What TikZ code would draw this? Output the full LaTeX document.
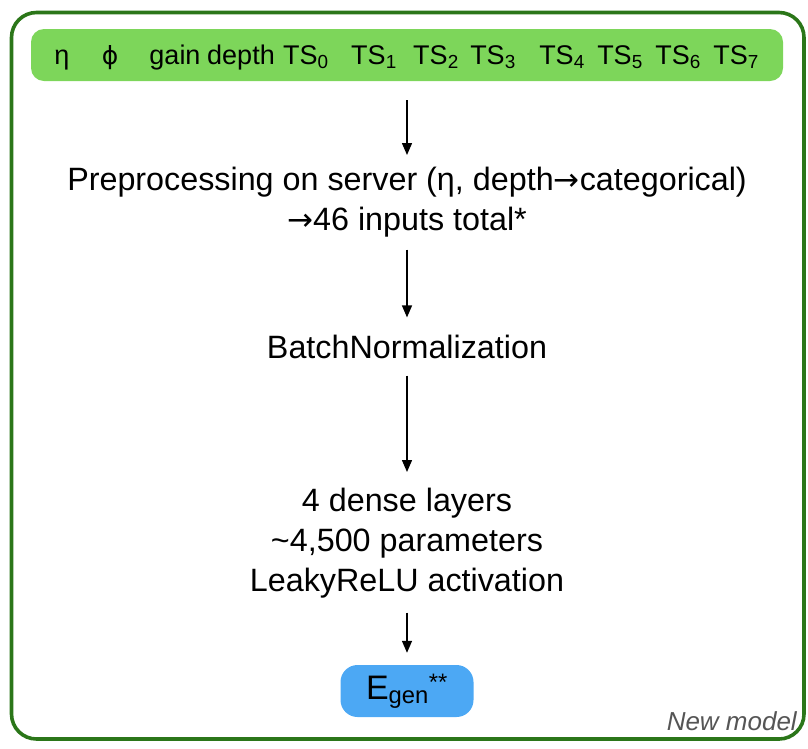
\documentclass[tikz,border=0pt]{standalone}
\usepackage{fontspec}
\setmainfont{Liberation Sans}
\newfontfamily\symfont{DejaVu Sans}
\usetikzlibrary{arrows.meta}
\definecolor{framegreen}{HTML}{2B7619}
\definecolor{barfill}{HTML}{7DD65A}
\definecolor{boxblue}{HTML}{4CA8F4}
\definecolor{labelgray}{HTML}{555555}
\newcommand{\rarr}{{\symfont\fontsize{31}{34}\selectfont →}}
\tikzset{
  arr/.style={line width=1.4pt, -{Triangle[width=10pt,length=12pt]}},
  barlabel/.style={anchor=base, inner sep=0pt, font=\fontsize{27}{30}\selectfont},
  maintext/.style={inner sep=0pt, align=center, font=\fontsize{32.3}{40}\selectfont},
}
\begin{document}
\begin{tikzpicture}[x=1pt,y=-1pt]
\useasboundingbox (0,0) rectangle (808,748);
% outer frame
\draw[framegreen, line width=3.6pt, rounded corners=25pt]
  (11.5,12.5) rectangle (804,739);
% input bar
\node[fill=barfill, rounded corners=13pt, minimum width=752pt, minimum height=52pt, inner sep=0pt] (bar) at (407,55) {};
\node[barlabel] (l1) at (62,64) {η};
\node[barlabel] (l2) at (110,64) {{\symfont\fontsize{25}{28}\selectfont ϕ}};
\node[barlabel] (l3) at (175,64) {gain};
\node[barlabel] (l4) at (241,64) {depth};
\node[barlabel] (l5) at (306,64) {TS\textsubscript{0}};
\node[barlabel] (l6) at (374,64) {TS\textsubscript{1}};
\node[barlabel] (l7) at (436,64) {TS\textsubscript{2}};
\node[barlabel] (l8) at (493,64) {TS\textsubscript{3}};
\node[barlabel] (l9) at (562,64) {TS\textsubscript{4}};
\node[barlabel] (l10) at (620,64) {TS\textsubscript{5}};
\node[barlabel] (l11) at (678,64) {TS\textsubscript{6}};
\node[barlabel] (l12) at (736,64) {TS\textsubscript{7}};
% text blocks
\node[maintext, anchor=north] (pre) at (407,167) {Preprocessing on server (η, depth\rarr categorical)\\\rarr 46 inputs total*};
\node[maintext, anchor=base] (bn) at (407,358) {BatchNormalization};
\node[maintext, anchor=north] (dense) at (407,488) {4 dense layers\\\textasciitilde4,500 parameters\\LeakyReLU activation};
\node[fill=boxblue, rounded corners=17pt, minimum width=133pt, minimum height=52pt, inner sep=0pt,
      font=\fontsize{34}{40}\selectfont] (egen) at (407,691)
  {E\textsubscript{gen}\textsuperscript{**}};
\node[anchor=base east, inner sep=0pt, text=labelgray, font=\itshape\fontsize{26}{30}\selectfont] (nm) at (797,730) {New model};
% arrows
\draw[arr] ([yshift=-19pt]bar.south) -- ([yshift=12pt]pre.north);
\draw[arr] ([yshift=-12pt]pre.south) -- ([yshift=17pt]bn.north);
\draw[arr] ([yshift=-17pt]bn.south) -- ([yshift=16pt]dense.north);
\draw[arr] ([yshift=-14pt]dense.south) -- ([yshift=12pt]egen.north);
\end{tikzpicture}
\end{document}
